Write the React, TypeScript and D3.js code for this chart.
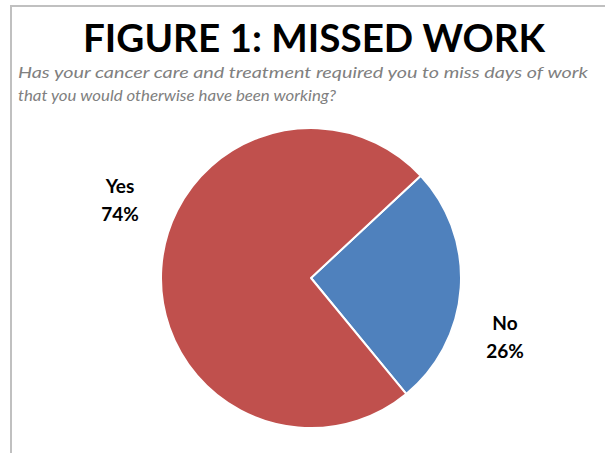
import React from "react";
import * as d3 from "d3";

const categories = ["No", "Yes"];
const values = [26, 74];
const colors = ["#4F81BD", "#C0504D"];
const titleText = "FIGURE 1: MISSED WORK";
const subtitleLines = [
  "Has your cancer care and treatment required you to miss days of work",
  "that you would otherwise have been working?",
];

const W = 605;
const H = 453;

export default function App() {
  const cx = 311;
  const cy = 278;
  const r = 150;
  const start = (47 * Math.PI) / 180;
  const pie = d3
    .pie<number>()
    .sort(null)
    .startAngle(start)
    .endAngle(start + 2 * Math.PI)
    .value((d) => d);
  const arcs = pie(values);
  const arc = d3.arc<d3.PieArcDatum<number>>().innerRadius(0).outerRadius(r);

  const labelPos = [
    { x: 505, y1: 330, y2: 358 },
    { x: 120, y1: 193, y2: 221 },
  ];

  return (
    <svg
      width={W}
      height={H}
      style={{ position: "absolute", left: 0, top: 0, background: "#fff" }}
    >
      <rect x={0} y={0} width={W} height={H} fill="#fff" />
      <line x1={11} y1={6} x2={W} y2={6} stroke="#c0c0c0" strokeWidth={2} />
      <line x1={11} y1={5} x2={11} y2={H} stroke="#c0c0c0" strokeWidth={2} />
      <text
        x={314}
        y={52}
        textAnchor="middle"
        fontFamily="Lato, 'Open Sans', sans-serif"
        fontWeight="bold"
        fontSize={38}
        fill="#000"
        textLength={462}
        lengthAdjust="spacingAndGlyphs"
      >
        {titleText}
      </text>
      {subtitleLines.map((t, i) => (
        <text
          key={i}
          x={18}
          y={78 + i * 23}
          fontFamily="Lato, 'Open Sans', sans-serif"
          fontStyle="italic"
          fontSize={16}
          fill="#808080"
          textLength={i === 0 ? 570 : 318}
          lengthAdjust="spacingAndGlyphs"
        >
          {t}
        </text>
      ))}
      <g transform={`translate(${cx},${cy})`}>
        {arcs.map((a, i) => (
          <path
            key={i}
            d={arc(a) || ""}
            fill={colors[i]}
            stroke="#fff"
            strokeWidth={2}
            strokeLinejoin="round"
          />
        ))}
      </g>
      {categories.map((c, i) => (
        <g key={c}>
          <text
            x={labelPos[i].x}
            y={labelPos[i].y1}
            textAnchor="middle"
            fontFamily="Lato, 'Open Sans', sans-serif"
            fontWeight="bold"
            fontSize={19}
            fill="#000"
          >
            {c}
          </text>
          <text
            x={labelPos[i].x}
            y={labelPos[i].y2}
            textAnchor="middle"
            fontFamily="Lato, 'Open Sans', sans-serif"
            fontWeight="bold"
            fontSize={19}
            fill="#000"
          >
            {`${values[i]}%`}
          </text>
        </g>
      ))}
    </svg>
  );
}
